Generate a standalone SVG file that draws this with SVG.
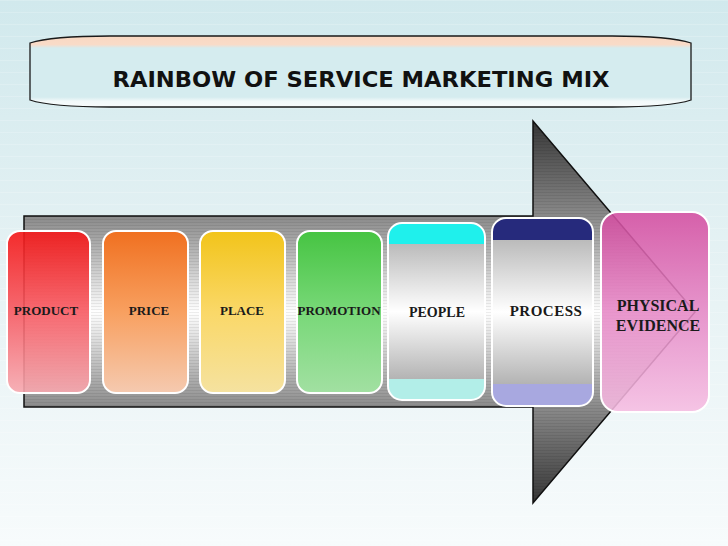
<svg xmlns="http://www.w3.org/2000/svg" width="728" height="546" viewBox="0 0 728 546">
  <defs>
    <linearGradient id="bg" x1="0" y1="0" x2="0" y2="1">
      <stop offset="0" stop-color="#d1e9ed"/>
      <stop offset="0.5" stop-color="#e6f2f4"/>
      <stop offset="1" stop-color="#f7fbfc"/>
    </linearGradient>
    <pattern id="bgstripes" width="8" height="12" patternUnits="userSpaceOnUse">
      <rect x="0" y="0" width="8" height="1" fill="#ffffff" opacity="0.18"/>
    </pattern>
    <linearGradient id="banner" x1="0" y1="0" x2="0" y2="1">
      <stop offset="0" stop-color="#f9d8c2"/>
      <stop offset="0.12" stop-color="#f9dbc8"/>
      <stop offset="0.17" stop-color="#d5ecef"/>
      <stop offset="0.86" stop-color="#d5ecef"/>
      <stop offset="0.92" stop-color="#f3f9fa"/>
      <stop offset="1" stop-color="#f7fbfc"/>
    </linearGradient>
    <linearGradient id="arrowg" gradientUnits="userSpaceOnUse" x1="0" y1="121" x2="0" y2="503">
      <stop offset="0" stop-color="#353535"/>
      <stop offset="0.25" stop-color="#8a8a8a"/>
      <stop offset="0.5" stop-color="#ffffff"/>
      <stop offset="0.75" stop-color="#8a8a8a"/>
      <stop offset="1" stop-color="#353535"/>
    </linearGradient>
    <pattern id="arrowlines" width="8" height="3" patternUnits="userSpaceOnUse">
      <rect x="0" y="0" width="8" height="1" fill="#000000" opacity="0.07"/>
    </pattern>
    <linearGradient id="gRed" x1="0" y1="0" x2="0" y2="1">
      <stop offset="0" stop-color="#f51616"/>
      <stop offset="0.5" stop-color="#f75a62"/>
      <stop offset="1" stop-color="#f7a9b0"/>
    </linearGradient>
    <linearGradient id="gOrange" x1="0" y1="0" x2="0" y2="1">
      <stop offset="0" stop-color="#f07020"/>
      <stop offset="0.5" stop-color="#f8a060"/>
      <stop offset="1" stop-color="#f5cab0"/>
    </linearGradient>
    <linearGradient id="gYellow" x1="0" y1="0" x2="0" y2="1">
      <stop offset="0" stop-color="#f2c41a"/>
      <stop offset="0.5" stop-color="#fad868"/>
      <stop offset="1" stop-color="#f5e2a0"/>
    </linearGradient>
    <linearGradient id="gGreen" x1="0" y1="0" x2="0" y2="1">
      <stop offset="0" stop-color="#46c442"/>
      <stop offset="0.5" stop-color="#78d878"/>
      <stop offset="1" stop-color="#a2e0a2"/>
    </linearGradient>
    <linearGradient id="gPink" x1="0" y1="0" x2="0" y2="1">
      <stop offset="0" stop-color="#d44ca0"/>
      <stop offset="0.5" stop-color="#e688c6"/>
      <stop offset="1" stop-color="#f6bde2"/>
    </linearGradient>
    <linearGradient id="gMid" x1="0" y1="0" x2="0" y2="1">
      <stop offset="0" stop-color="#a6a6a6"/>
      <stop offset="0.5" stop-color="#ffffff"/>
      <stop offset="1" stop-color="#9c9c9c"/>
    </linearGradient>
    <clipPath id="cPeople"><rect x="388" y="223" width="97" height="177" rx="14"/></clipPath>
    <clipPath id="cProcess"><rect x="492" y="218" width="101" height="188" rx="14"/></clipPath>
  </defs>
  <style>
    .lbl { font-family: "Liberation Serif", "Times New Roman", serif; font-weight: bold; fill: #1a1a1a; text-anchor: middle; }
    .box { stroke: #ffffff; stroke-width: 2; }
    .title { font-family: "DejaVu Sans", Verdana, sans-serif; font-weight: bold; fill: #111111; text-anchor: middle; }
  </style>

  <rect x="0" y="0" width="728" height="546" fill="url(#bg)"/>
  <rect x="0" y="0" width="728" height="546" fill="url(#bgstripes)"/>

  <g id="title">
    <path d="M30,43 C45,38 80,36 110,36 L612,36 C642,36 676,38 691,43 L691,100 C676,105 642,107 612,107 L110,107 C80,107 45,105 30,100 Z" fill="url(#banner)" stroke="#1a1a1a" stroke-width="1.3"/>
    <text class="title" x="361" y="87" font-size="22" textLength="497" lengthAdjust="spacingAndGlyphs">RAINBOW OF SERVICE MARKETING MIX</text>
  </g>

  <g id="arrow">
    <path d="M24,216 L533,216 L533,121 L695,312 L533,503 L533,407 L24,407 Z" fill="url(#arrowg)" stroke="#111111" stroke-width="1.5" stroke-linejoin="miter"/>
    <path d="M24,216 L533,216 L533,121 L695,312 L533,503 L533,407 L24,407 Z" fill="url(#arrowlines)"/>
  </g>

  <g id="connectors"></g>

  <g id="product">
    <rect class="box" x="7" y="231" width="83" height="162" rx="13" fill="url(#gRed)" fill-opacity="0.9"/>
    <text class="lbl" x="46" y="315" font-size="13">PRODUCT</text>
  </g>
  <g id="price">
    <rect class="box" x="103" y="231" width="85" height="162" rx="13" fill="url(#gOrange)"/>
    <text class="lbl" x="149" y="315" font-size="13">PRICE</text>
  </g>
  <g id="place">
    <rect class="box" x="200" y="231" width="85" height="162" rx="13" fill="url(#gYellow)"/>
    <text class="lbl" x="242" y="315" font-size="13">PLACE</text>
  </g>
  <g id="promotion">
    <rect class="box" x="297" y="231" width="85" height="162" rx="13" fill="url(#gGreen)"/>
    <text class="lbl" x="339" y="315" font-size="13">PROMOTION</text>
  </g>
  <g id="people">
    <g clip-path="url(#cPeople)">
      <rect x="388" y="223" width="97" height="177" fill="url(#gMid)"/>
      <rect x="388" y="223" width="97" height="21" fill="#1ff0ec"/>
      <rect x="388" y="379" width="97" height="21" fill="#b2eee8"/>
    </g>
    <rect class="box" x="388" y="223" width="97" height="177" rx="14" fill="none"/>
    <text class="lbl" x="437" y="317" font-size="14">PEOPLE</text>
  </g>
  <g id="process">
    <g clip-path="url(#cProcess)">
      <rect x="492" y="218" width="101" height="188" fill="url(#gMid)"/>
      <rect x="492" y="218" width="101" height="22" fill="#262a7c"/>
      <rect x="492" y="384" width="101" height="22" fill="#a8a8e0"/>
    </g>
    <rect class="box" x="492" y="218" width="101" height="188" rx="14" fill="none"/>
    <text class="lbl" x="546" y="316" font-size="15" letter-spacing="0.5">PROCESS</text>
  </g>
  <g id="physical-evidence">
    <rect class="box" x="601" y="212" width="108" height="200" rx="17" fill="url(#gPink)" fill-opacity="0.88"/>
    <text class="lbl" x="658" y="311" font-size="16">PHYSICAL</text>
    <text class="lbl" x="658" y="331" font-size="16">EVIDENCE</text>
  </g>
</svg>
